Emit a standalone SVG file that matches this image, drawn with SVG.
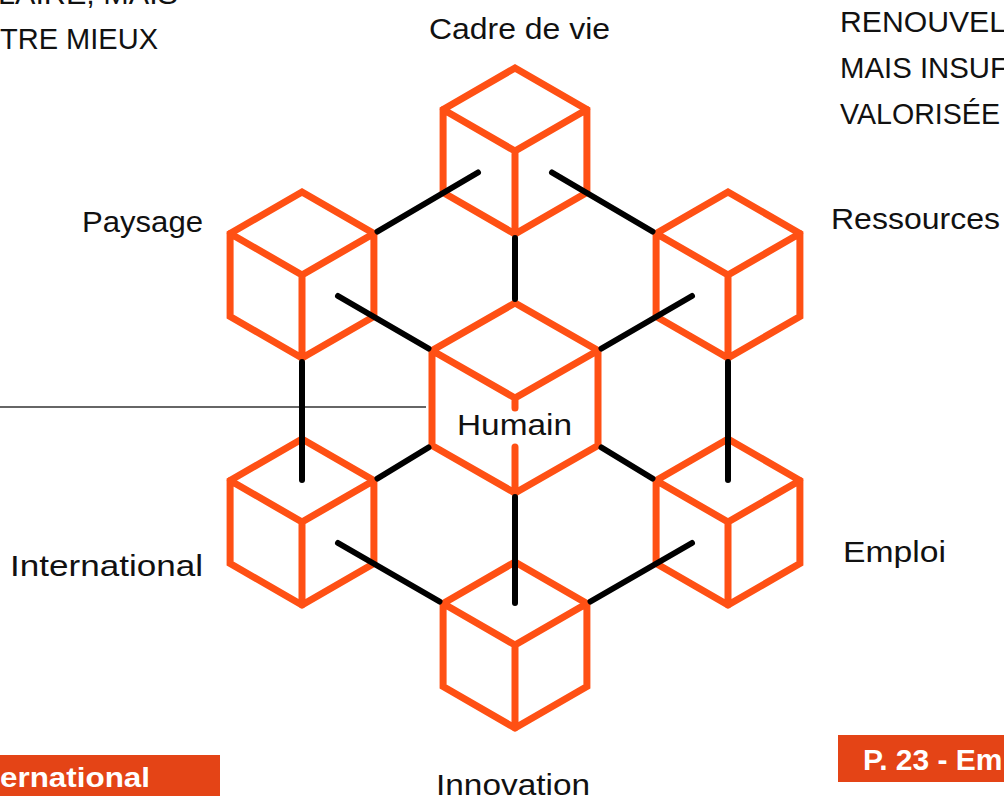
<svg xmlns="http://www.w3.org/2000/svg" xmlns:xlink="http://www.w3.org/1999/xlink" width="1004" height="798" viewBox="0 0 1004 798">
<style>
.cube{fill:none;stroke:#FF5014;stroke-width:7;stroke-linejoin:miter;stroke-linecap:round}
.conn{fill:none;stroke:#000;stroke-width:6;stroke-linecap:round}
.lbl{font-family:"Liberation Sans",Arial,sans-serif;font-size:29px;fill:#111}
.hdr{font-family:"Liberation Sans",Arial,sans-serif;font-size:30px;fill:#111}
.tag{font-family:"Liberation Sans",Arial,sans-serif;font-size:28px;font-weight:bold;fill:#fff}
.box{fill:#E44416}
</style>
<defs>
<path id="cube" d="M0,-83 L71.9,-41.5 L71.9,41.5 L0,83 L-71.9,41.5 L-71.9,-41.5 Z M-71.9,-41.5 L0,0 L71.9,-41.5 M0,0 L0,83"/>
</defs>
<rect width="1004" height="798" fill="#fff"/>
<g id="header-text">
<text class="hdr" x="-2" y="4" textLength="180" lengthAdjust="spacingAndGlyphs">LAIRE, MAIS</text>
<text class="hdr" x="0" y="49" textLength="158" lengthAdjust="spacingAndGlyphs">TRE MIEUX</text>
<text class="hdr" x="840" y="32" textLength="166" lengthAdjust="spacingAndGlyphs">RENOUVEL</text>
<text class="hdr" x="840" y="78" textLength="168" lengthAdjust="spacingAndGlyphs">MAIS INSUF</text>
<text class="hdr" x="840" y="124" textLength="160" lengthAdjust="spacingAndGlyphs">VALORISÉE</text>
</g>
<line id="pointer" x1="0" y1="407" x2="426" y2="407" stroke="#333" stroke-width="1.3"/>
<g id="node-cadre"><use xlink:href="#cube" href="#cube" class="cube" x="515" y="151"/><text class="lbl" x="429" y="39" textLength="181" lengthAdjust="spacingAndGlyphs">Cadre de vie</text></g>
<g id="node-paysage"><use xlink:href="#cube" href="#cube" class="cube" x="302" y="275"/><text class="lbl" x="82" y="232" textLength="121" lengthAdjust="spacingAndGlyphs">Paysage</text></g>
<g id="node-ressources"><use xlink:href="#cube" href="#cube" class="cube" x="728" y="275"/><text class="lbl" x="831" y="229" textLength="169" lengthAdjust="spacingAndGlyphs">Ressources</text></g>
<g id="node-international"><use xlink:href="#cube" href="#cube" class="cube" x="302" y="522"/><text class="lbl" x="10" y="576" textLength="193" lengthAdjust="spacingAndGlyphs">International</text></g>
<g id="node-emploi"><use xlink:href="#cube" href="#cube" class="cube" x="728" y="522"/><text class="lbl" x="843" y="562" textLength="103" lengthAdjust="spacingAndGlyphs">Emploi</text></g>
<g id="node-innovation"><use xlink:href="#cube" href="#cube" class="cube" x="515" y="645"/><text class="lbl" x="436" y="795" textLength="154" lengthAdjust="spacingAndGlyphs">Innovation</text></g>
<g id="node-humain"><path class="cube" d="M515,303 L598,350.5 L598,445.5 L515,493 L432,445.5 L432,350.5 Z M432,350.5 L515,398 L598,350.5 M515,398 L515,408 M515,447 L515,493"/><text class="lbl" x="457" y="435" textLength="115" lengthAdjust="spacingAndGlyphs">Humain</text></g>
<g id="connectors">
<line class="conn" x1="478" y1="172.5" x2="377.5" y2="231.5"/>
<line class="conn" x1="552" y1="172.5" x2="652.5" y2="231.5"/>
<line class="conn" x1="515" y1="238" x2="515" y2="299"/>
<line class="conn" x1="338" y1="296" x2="428.5" y2="348.5"/>
<line class="conn" x1="692" y1="296" x2="601.5" y2="348.5"/>
<line class="conn" x1="302" y1="480" x2="302" y2="362"/>
<line class="conn" x1="728" y1="480" x2="728" y2="362"/>
<line class="conn" x1="377.5" y1="478.5" x2="428.5" y2="447.5"/>
<line class="conn" x1="652.5" y1="478.5" x2="601.5" y2="447.5"/>
<line class="conn" x1="515" y1="603" x2="515" y2="497"/>
<line class="conn" x1="338" y1="543" x2="439.5" y2="601.5"/>
<line class="conn" x1="692" y1="543" x2="590.5" y2="601.5"/>
</g>
<g id="tag-left"><rect class="box" x="0" y="755" width="220" height="41"/><text class="tag" x="0" y="787" textLength="150" lengthAdjust="spacingAndGlyphs">ernational</text></g>
<g id="tag-right"><rect class="box" x="838" y="735" width="166" height="47"/><text class="tag" x="863" y="770" font-size="30" style="font-size:30px">P. 23 - Em</text></g>
</svg>
